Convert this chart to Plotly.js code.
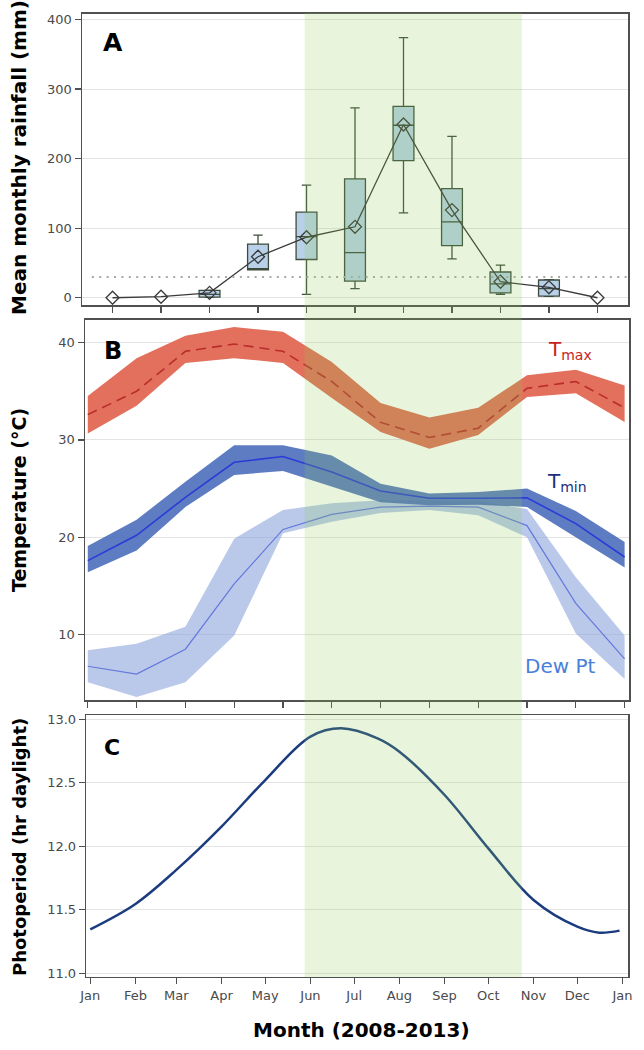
<!DOCTYPE html>
<html>
<head>
<meta charset="utf-8">
<script src="https://cdn.plot.ly/plotly-3.0.1.min.js"></script>
<style>
  html, body { margin: 0; padding: 0; background: #fff; }
  #chart { width: 644px; height: 1050px; }
</style>
</head>
<body>
<div id="chart"></div>
<script>
// Three stacked panels: rainfall boxes (A), temperature bands (B), photoperiod (C).

// --- A: monthly rainfall (mm), 2008-2013 ---
const rainMonths = ['Feb', 'Mar', 'Apr', 'May', 'Jun', 'Jul', 'Aug', 'Sep', 'Oct', 'Nov', 'Dec'];
const rainMean = [0, 1.5, 7, 59, 87, 102, 249, 126, 23, 15, 0];
const boxMonths = ['Apr', 'May', 'Jun', 'Jul', 'Aug', 'Sep', 'Oct', 'Nov'];
const rainQ1 = [1, 40, 55, 24, 197, 75, 7, 2.5];
const rainMedian = [5, 42, 88, 65, 248, 109, 20, 13];
const rainQ3 = [10.5, 77, 123, 171, 275, 157, 37, 25.5];
const rainLow = [0.5, 40, 5, 13, 122, 56, 5, 2];
const rainHigh = [11, 90, 162, 273, 374, 232, 47, 26];
const rainThreshold = 30;

// --- B: temperatures (deg C) ---
const months = ['Jan', 'Feb', 'Mar', 'Apr', 'May', 'Jun', 'Jul', 'Aug', 'Sep', 'Oct', 'Nov', 'Dec'];
const tmaxMean = [32.6, 35.0, 39.1, 39.85, 39.1, 36.0, 31.8, 30.25, 31.2, 35.3, 36.0, 33.3];
const tmaxHi = [34.5, 38.4, 40.7, 41.6, 41.1, 38.0, 33.8, 32.3, 33.3, 36.65, 37.2, 35.6];
const tmaxLo = [30.65, 33.5, 37.9, 38.4, 37.9, 34.3, 30.8, 29.1, 30.5, 34.4, 34.8, 31.85];
const tminMean = [17.6, 20.2, 24.1, 27.7, 28.3, 26.7, 24.75, 24.0, 24.0, 24.05, 21.4, 17.97];
const tminHi = [19.1, 21.8, 25.7, 29.45, 29.45, 28.4, 25.5, 24.5, 24.65, 25.0, 22.7, 19.5];
const tminLo = [16.4, 18.65, 23.1, 26.4, 26.8, 25.2, 23.6, 23.3, 23.35, 23.1, 20.0, 16.9];
const dewMean = [6.75, 5.95, 8.5, 15.2, 20.8, 22.35, 23.1, 23.2, 23.1, 21.2, 13.2, 7.5];
const dewHi = [8.4, 9.05, 10.8, 19.85, 22.8, 23.5, 23.8, 23.8, 23.7, 22.9, 15.9, 9.9];
const dewLo = [5.1, 3.6, 5.1, 9.9, 20.4, 21.6, 22.5, 22.8, 22.25, 20.0, 10.1, 5.45];

// --- C: photoperiod (hr daylight) by day of year ---
const photoDays = [1, 32, 60, 91, 121, 152, 173, 198, 213, 244, 274, 305, 335, 350, 364];
const photoHours = [11.346, 11.546, 11.814, 12.155, 12.522, 12.864, 12.929, 12.85, 12.745, 12.404, 11.984, 11.577, 11.367, 11.320, 11.336];
const monthTickDays = [1, 32, 60, 91, 121, 152, 182, 213, 244, 274, 305, 335, 366];
const monthTickLabels = ['Jan', 'Feb', 'Mar', 'Apr', 'May', 'Jun', 'Jul', 'Aug', 'Sep', 'Oct', 'Nov', 'Dec', 'Jan'];

// rainy season shading (day of year)
const wetStartDay = 148;
const wetEndDay = 297;

const COLORS = {
  frame: '#505050', grid: '#e4e4e4', tick: '#4a4a4a',
  boxFill: 'rgb(184,208,232)', boxLine: '#3d4a3d', meanLine: '#3a3a3a',
  tmaxBand: 'rgb(226,112,92)', tmaxLine: 'rgb(185,45,45)',
  tminBand: 'rgba(70,105,185,0.87)', tminLine: 'rgb(40,60,215)',
  dewBand: 'rgba(140,165,220,0.6)', dewLine: 'rgb(100,120,220)',
  photo: '#1c3c80', wet: 'rgb(140,205,80)',
};
const FONT = 'DejaVu Sans, Arial, sans-serif';

const W = 644, H = 1050;
const px = x => x / W;
const py = y => 1 - y / H;

const domA = { x: [px(82), px(628)], y: [py(305), py(13.5)] };
const domB = { x: [px(85), px(629)], y: [py(700), py(319.5)] };
const domC = { x: [px(86.2), px(628.3)], y: [py(976.7), py(715)] };
const rangeC = [-1.8, 370];

function band(xs, lo, hi, color, xa, ya) {
  return {
    x: [...xs, ...xs.slice().reverse()], y: [...hi, ...lo.slice().reverse()],
    xaxis: xa, yaxis: ya, fill: 'toself', fillcolor: color, mode: 'lines',
    line: { width: 0, color: 'rgba(0,0,0,0)' }, hoverinfo: 'skip', showlegend: false,
  };
}

const traces = [
  {
    type: 'box', x: boxMonths, q1: rainQ1, median: rainMedian, q3: rainQ3,
    lowerfence: rainLow, upperfence: rainHigh, xaxis: 'x', yaxis: 'y',
    fillcolor: COLORS.boxFill, line: { color: COLORS.boxLine, width: 1.3 },
    width: 0.43, whiskerwidth: 0.45, boxpoints: false, showlegend: false,
  },
  {
    x: rainMonths, y: rainMean, xaxis: 'x', yaxis: 'y', mode: 'lines+markers',
    line: { color: COLORS.meanLine, width: 1.3 },
    marker: { symbol: 'diamond-open', size: 10, color: COLORS.meanLine, line: { width: 1.3 } },
    showlegend: false,
  },
  band(months, dewLo, dewHi, COLORS.dewBand, 'x2', 'y2'),
  band(months, tminLo, tminHi, COLORS.tminBand, 'x2', 'y2'),
  band(months, tmaxLo, tmaxHi, COLORS.tmaxBand, 'x2', 'y2'),
  { x: months, y: dewMean, xaxis: 'x2', yaxis: 'y2', mode: 'lines', line: { color: COLORS.dewLine, width: 1.2 }, showlegend: false },
  { x: months, y: tminMean, xaxis: 'x2', yaxis: 'y2', mode: 'lines', line: { color: COLORS.tminLine, width: 1.6 }, showlegend: false },
  { x: months, y: tmaxMean, xaxis: 'x2', yaxis: 'y2', mode: 'lines', line: { color: COLORS.tmaxLine, width: 1.6, dash: '10px,6px' }, showlegend: false },
  {
    x: photoDays, y: photoHours, xaxis: 'x3', yaxis: 'y3', mode: 'lines',
    line: { color: COLORS.photo, width: 2.5, shape: 'spline', smoothing: 1 }, showlegend: false,
  },
];

const tickFont = { family: FONT, size: 13, color: COLORS.tick };
const axisBase = {
  showline: true, mirror: true, linecolor: COLORS.frame, linewidth: 1.5,
  ticks: 'outside', ticklen: 6, tickwidth: 1.2, tickcolor: COLORS.frame,
  tickfont: tickFont, zeroline: false, fixedrange: true,
};

const wetX0 = domC.x[0] + (wetStartDay - rangeC[0]) / (rangeC[1] - rangeC[0]) * (domC.x[1] - domC.x[0]);
const wetX1 = domC.x[0] + (wetEndDay - rangeC[0]) / (rangeC[1] - rangeC[0]) * (domC.x[1] - domC.x[0]);

function label(text, x, y, size, color, extra = {}) {
  return { text, xref: 'paper', yref: 'paper', x: px(x), y: py(y), xanchor: 'center', yanchor: 'middle',
    showarrow: false, font: { family: FONT, size, color }, ...extra };
}

const layout = {
  width: W, height: H,
  margin: { l: 0, r: 0, t: 0, b: 0 },
  paper_bgcolor: '#fff', plot_bgcolor: 'rgba(0,0,0,0)',
  showlegend: false,
  xaxis: { ...axisBase, domain: domA.x, anchor: 'y', type: 'category', categoryorder: 'array',
    categoryarray: rainMonths, range: [-0.63, 10.63], showticklabels: false, showgrid: false },
  yaxis: { ...axisBase, domain: domA.y, anchor: 'x', range: [-10.4, 408.6], tickvals: [0, 100, 200, 300, 400],
    showgrid: true, gridcolor: COLORS.grid },
  xaxis2: { ...axisBase, domain: domB.x, anchor: 'y2', type: 'category', categoryorder: 'array',
    categoryarray: months, range: [-0.057, 11.09], showticklabels: false, showgrid: false },
  yaxis2: { ...axisBase, domain: domB.y, anchor: 'x2', range: [3.28, 42.37], tickvals: [10, 20, 30, 40],
    showgrid: true, gridcolor: COLORS.grid },
  xaxis3: { ...axisBase, domain: domC.x, anchor: 'y3', range: rangeC, tickvals: monthTickDays,
    ticktext: monthTickLabels, showgrid: false },
  yaxis3: { ...axisBase, domain: domC.y, anchor: 'x3', range: [10.973, 13.034],
    tickvals: [11, 11.5, 12, 12.5, 13], tickformat: '.1f', showgrid: true, gridcolor: COLORS.grid },
  shapes: [
    { type: 'line', xref: 'x domain', yref: 'y', x0: 0.018, x1: 1, y0: rainThreshold, y1: rainThreshold,
      line: { color: '#a8a8a8', width: 2, dash: '2px,5.4px' } },
    { type: 'rect', xref: 'paper', yref: 'paper', x0: wetX0, x1: wetX1, y0: py(977), y1: py(13),
      fillcolor: COLORS.wet, opacity: 0.2, line: { width: 0 }, layer: 'above' },
  ],
  annotations: [
    label('<b>A</b>', 112.5, 42.5, 25, '#000'),
    label('<b>B</b>', 113, 351, 24, '#000'),
    label('<b>C</b>', 112, 747.5, 22, '#000'),
    label('T<sub>max</sub>', 570, 350, 20, 'rgb(200,30,30)'),
    label('T<sub>min</sub>', 567, 482, 20, 'rgb(30,47,122)'),
    label('Dew Pt', 560, 665.5, 20, 'rgb(74,127,216)'),
    label('<b>Mean monthly rainfall (mm)</b>', 19, 158, 20, '#000', { textangle: -90 }),
    label('<b>Temperature (°C)</b>', 19, 500, 19, '#000', { textangle: -90 }),
    label('<b>Photoperiod (hr daylight)</b>', 19, 847, 18, '#000', { textangle: -90 }),
    label('<b>Month (2008-2013)</b>', 361, 1030, 20, '#000'),
  ],
};

Plotly.newPlot('chart', traces, layout, { staticPlot: true, displayModeBar: false });
</script>
</body>
</html>
